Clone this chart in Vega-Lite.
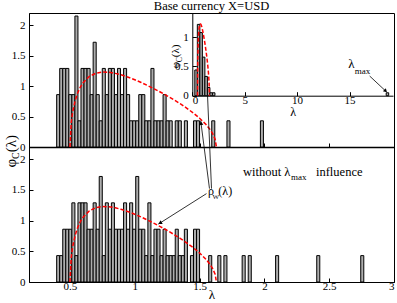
{
  "$schema": "https://vega.github.io/schema/vega-lite/v6.json",
  "width": 365,
  "height": 269,
  "autosize": "none",
  "padding": {"left": 29, "top": 13, "right": 3, "bottom": 21},
  "background": "white",
  "title": {"text": "Base currency X=USD", "font": "Liberation Serif", "fontSize": 12.5, "fontWeight": "normal", "anchor": "middle", "offset": 1, "color": "black"},
  "config": {
    "view": {"stroke": "black", "strokeWidth": 1},
    "axis": {"domainColor": "black", "domainWidth": 1, "tickColor": "black", "tickSize": -4, "labelPadding": 8, "labelFont": "Liberation Serif", "labelFontSize": 11, "labelColor": "black", "grid": false, "titleFont": "Liberation Serif", "titleFontWeight": "normal", "titleColor": "black"},
    "text": {"font": "Liberation Serif", "color": "black"}
  },
  "datasets": {
    "top": [
      {"lam": 0.3974, "lam2": 0.4209, "rho": 0.86},
      {"lam": 0.4209, "lam2": 0.4443, "rho": 1.29},
      {"lam": 0.4443, "lam2": 0.4678, "rho": 1.29},
      {"lam": 0.4678, "lam2": 0.4912, "rho": 1.29},
      {"lam": 0.4912, "lam2": 0.5147, "rho": 0.86},
      {"lam": 0.5147, "lam2": 0.5382, "rho": 0.86},
      {"lam": 0.5382, "lam2": 0.5616, "rho": 2.15},
      {"lam": 0.5616, "lam2": 0.5851, "rho": 0.43},
      {"lam": 0.5851, "lam2": 0.6085, "rho": 1.29},
      {"lam": 0.6085, "lam2": 0.632, "rho": 1.29},
      {"lam": 0.632, "lam2": 0.6555, "rho": 1.29},
      {"lam": 0.6555, "lam2": 0.6789, "rho": 0.86},
      {"lam": 0.6789, "lam2": 0.7024, "rho": 1.72},
      {"lam": 0.7024, "lam2": 0.7258, "rho": 0.86},
      {"lam": 0.7258, "lam2": 0.7493, "rho": 0.43},
      {"lam": 0.7493, "lam2": 0.7728, "rho": 1.29},
      {"lam": 0.7728, "lam2": 0.7962, "rho": 0.86},
      {"lam": 0.7962, "lam2": 0.8197, "rho": 1.29},
      {"lam": 0.8197, "lam2": 0.8431, "rho": 1.29},
      {"lam": 0.8431, "lam2": 0.8666, "rho": 0.86},
      {"lam": 0.8666, "lam2": 0.8901, "rho": 1.29},
      {"lam": 0.8901, "lam2": 0.9135, "rho": 0.86},
      {"lam": 0.9135, "lam2": 0.937, "rho": 1.29},
      {"lam": 0.937, "lam2": 0.9604, "rho": 0.86},
      {"lam": 0.9604, "lam2": 0.9839, "rho": 0.43},
      {"lam": 0.9839, "lam2": 1.0074, "rho": 0.43},
      {"lam": 1.0074, "lam2": 1.0308, "rho": 0.43},
      {"lam": 1.0308, "lam2": 1.0543, "rho": 0.86},
      {"lam": 1.0543, "lam2": 1.0777, "rho": 0.86},
      {"lam": 1.0777, "lam2": 1.1012, "rho": 0.43},
      {"lam": 1.1012, "lam2": 1.1247, "rho": 0.43},
      {"lam": 1.1247, "lam2": 1.1481, "rho": 1.29},
      {"lam": 1.1481, "lam2": 1.1716, "rho": 0.43},
      {"lam": 1.1716, "lam2": 1.195, "rho": 0.43},
      {"lam": 1.195, "lam2": 1.2185, "rho": 0.43},
      {"lam": 1.2185, "lam2": 1.242, "rho": 0.86},
      {"lam": 1.242, "lam2": 1.2654, "rho": 0.43},
      {"lam": 1.2654, "lam2": 1.2889, "rho": 0.43},
      {"lam": 1.3123, "lam2": 1.3358, "rho": 0.43},
      {"lam": 1.3358, "lam2": 1.3593, "rho": 0.43},
      {"lam": 1.3827, "lam2": 1.4062, "rho": 0.43},
      {"lam": 1.4531, "lam2": 1.4766, "rho": 0.43},
      {"lam": 1.4766, "lam2": 1.5, "rho": 0.43},
      {"lam": 1.5939, "lam2": 1.6174, "rho": 0.43},
      {"lam": 1.7112, "lam2": 1.7347, "rho": 0.43},
      {"lam": 1.9692, "lam2": 1.9927, "rho": 0.43}
    ],
    "bottom": [
      {"lam": 0.3974, "lam2": 0.4209, "rho": 0.43},
      {"lam": 0.4209, "lam2": 0.4443, "rho": 0.43},
      {"lam": 0.4443, "lam2": 0.4678, "rho": 0.86},
      {"lam": 0.4678, "lam2": 0.4912, "rho": 0.86},
      {"lam": 0.4912, "lam2": 0.5147, "rho": 0.86},
      {"lam": 0.5147, "lam2": 0.5382, "rho": 1.29},
      {"lam": 0.5382, "lam2": 0.5616, "rho": 0.43},
      {"lam": 0.5616, "lam2": 0.5851, "rho": 1.29},
      {"lam": 0.5851, "lam2": 0.6085, "rho": 1.29},
      {"lam": 0.6085, "lam2": 0.632, "rho": 1.29},
      {"lam": 0.632, "lam2": 0.6555, "rho": 0.86},
      {"lam": 0.6555, "lam2": 0.6789, "rho": 0.86},
      {"lam": 0.6789, "lam2": 0.7024, "rho": 1.29},
      {"lam": 0.7024, "lam2": 0.7258, "rho": 0.86},
      {"lam": 0.7258, "lam2": 0.7493, "rho": 1.72},
      {"lam": 0.7493, "lam2": 0.7728, "rho": 0.43},
      {"lam": 0.7728, "lam2": 0.7962, "rho": 1.29},
      {"lam": 0.7962, "lam2": 0.8197, "rho": 0.86},
      {"lam": 0.8197, "lam2": 0.8431, "rho": 1.29},
      {"lam": 0.8431, "lam2": 0.8666, "rho": 0.86},
      {"lam": 0.8666, "lam2": 0.8901, "rho": 0.86},
      {"lam": 0.8901, "lam2": 0.9135, "rho": 0.86},
      {"lam": 0.9135, "lam2": 0.937, "rho": 1.29},
      {"lam": 0.937, "lam2": 0.9604, "rho": 0.86},
      {"lam": 0.9604, "lam2": 0.9839, "rho": 1.29},
      {"lam": 0.9839, "lam2": 1.0074, "rho": 0.86},
      {"lam": 1.0074, "lam2": 1.0308, "rho": 1.72},
      {"lam": 1.0308, "lam2": 1.0543, "rho": 0.86},
      {"lam": 1.0543, "lam2": 1.0777, "rho": 0.86},
      {"lam": 1.0777, "lam2": 1.1012, "rho": 0.43},
      {"lam": 1.1012, "lam2": 1.1247, "rho": 1.29},
      {"lam": 1.1247, "lam2": 1.1481, "rho": 0.43},
      {"lam": 1.1481, "lam2": 1.1716, "rho": 0.86},
      {"lam": 1.1716, "lam2": 1.195, "rho": 0.86},
      {"lam": 1.195, "lam2": 1.2185, "rho": 0.43},
      {"lam": 1.2185, "lam2": 1.242, "rho": 0.86},
      {"lam": 1.242, "lam2": 1.2654, "rho": 0.43},
      {"lam": 1.2654, "lam2": 1.2889, "rho": 0.43},
      {"lam": 1.2889, "lam2": 1.3123, "rho": 0.43},
      {"lam": 1.3123, "lam2": 1.3358, "rho": 0.86},
      {"lam": 1.3358, "lam2": 1.3593, "rho": 0.43},
      {"lam": 1.3593, "lam2": 1.3827, "rho": 0.43},
      {"lam": 1.3827, "lam2": 1.4062, "rho": 0.86},
      {"lam": 1.4296, "lam2": 1.4531, "rho": 0.43},
      {"lam": 1.4531, "lam2": 1.4766, "rho": 0.86},
      {"lam": 1.4766, "lam2": 1.5, "rho": 0.86},
      {"lam": 1.5704, "lam2": 1.5939, "rho": 0.43},
      {"lam": 1.6408, "lam2": 1.6643, "rho": 0.43},
      {"lam": 1.6877, "lam2": 1.7112, "rho": 0.43},
      {"lam": 1.8285, "lam2": 1.852, "rho": 0.43},
      {"lam": 1.8754, "lam2": 1.8989, "rho": 0.43},
      {"lam": 2.0865, "lam2": 2.11, "rho": 0.43},
      {"lam": 2.404, "lam2": 2.4275, "rho": 0.43},
      {"lam": 2.7434, "lam2": 2.7669, "rho": 0.43}
    ],
    "inset": [
      {"lam": 0.24, "lam2": 0.48, "rho": 0.44},
      {"lam": 0.48, "lam2": 0.72, "rho": 1.22},
      {"lam": 0.72, "lam2": 0.96, "rho": 1.08},
      {"lam": 0.96, "lam2": 1.2, "rho": 0.66},
      {"lam": 1.2, "lam2": 1.44, "rho": 0.33},
      {"lam": 1.44, "lam2": 1.68, "rho": 0.14},
      {"lam": 1.68, "lam2": 1.92, "rho": 0.05},
      {"lam": 1.92, "lam2": 2.16, "rho": 0.05},
      {"lam": 18.5, "lam2": 18.74, "rho": 0.05}
    ],
    "mp": [
      {"lam": 0.5, "rho": 0},
      {"lam": 0.51, "rho": 0.408},
      {"lam": 0.52, "rho": 0.564},
      {"lam": 0.54, "rho": 0.761},
      {"lam": 0.56, "rho": 0.89},
      {"lam": 0.58, "rho": 0.983},
      {"lam": 0.6, "rho": 1.052},
      {"lam": 0.65, "rho": 1.16},
      {"lam": 0.7, "rho": 1.212},
      {"lam": 0.75, "rho": 1.23},
      {"lam": 0.8, "rho": 1.227},
      {"lam": 0.85, "rho": 1.209},
      {"lam": 0.9, "rho": 1.181},
      {"lam": 0.95, "rho": 1.145},
      {"lam": 1.0, "rho": 1.104},
      {"lam": 1.05, "rho": 1.058},
      {"lam": 1.1, "rho": 1.008},
      {"lam": 1.15, "rho": 0.955},
      {"lam": 1.2, "rho": 0.899},
      {"lam": 1.25, "rho": 0.84},
      {"lam": 1.3, "rho": 0.777},
      {"lam": 1.35, "rho": 0.711},
      {"lam": 1.4, "rho": 0.639},
      {"lam": 1.45, "rho": 0.561},
      {"lam": 1.5, "rho": 0.473},
      {"lam": 1.55, "rho": 0.368},
      {"lam": 1.58, "rho": 0.289},
      {"lam": 1.6, "rho": 0.223},
      {"lam": 1.62, "rho": 0.128},
      {"lam": 1.63, "rho": 0}
    ]
  },
  "layer": [
    {
      "encoding": {
        "x": {"field": "lam", "type": "quantitative", "scale": {"domain": [0.184, 3], "nice": false, "zero": false}, "axis": {"orient": "bottom", "offset": -135, "labels": false, "values": [0.5, 1, 1.5, 2, 2.5, 3], "title": null, "domainWidth": 1.5}},
        "y": {"field": "rho", "type": "quantitative", "scale": {"domain": [0, 2.2], "range": [134, 0], "nice": false, "zero": false}, "axis": {"orient": "left", "values": [0, 0.5, 1, 1.5, 2], "format": "~g", "labelFont": "Liberation Serif", "title": null}}
      },
      "layer": [
        {"data": {"name": "top"}, "mark": {"type": "bar", "fill": "#adadad", "stroke": "black", "strokeWidth": 1}, "encoding": {"x2": {"field": "lam2"}, "y2": {"datum": 0}}},
        {"data": {"name": "mp"}, "mark": {"type": "line", "color": "#ff0000", "strokeDash": [4, 2], "strokeWidth": 1.5}}
      ]
    },
    {
      "encoding": {
        "x": {"field": "lam", "type": "quantitative", "scale": {"domain": [0.184, 3], "nice": false, "zero": false}, "axis": {"orient": "bottom", "values": [0.5, 1, 1.5, 2, 2.5, 3], "format": "~g", "labelFont": "Liberation Serif", "labelPadding": 2, "title": "λ", "titleFontSize": 13, "titlePadding": -3}},
        "y": {"field": "rho", "type": "quantitative", "scale": {"domain": [0, 2.2], "range": [269, 134], "nice": false, "zero": false}, "axis": {"orient": "left", "values": [0, 0.5, 1, 1.5, 2], "format": "~g", "labelFont": "Liberation Serif", "title": null}}
      },
      "layer": [
        {"data": {"name": "bottom"}, "mark": {"type": "bar", "fill": "#adadad", "stroke": "black", "strokeWidth": 1}, "encoding": {"x2": {"field": "lam2"}, "y2": {"datum": 0}}},
        {"data": {"name": "mp"}, "mark": {"type": "line", "color": "#ff0000", "strokeDash": [4, 2], "strokeWidth": 1.5}},
        {"data": {"values": [
          {"lam": 1.592, "rho": 1.522, "lam2": 1.5594, "rho2": 3.137},
          {"lam": 1.5764, "rho": 1.522, "lam2": 1.5085, "rho2": 2.631},
          {"lam": 1.5532, "rho": 1.44, "lam2": 1.1813, "rho2": 0.943}
        ]}, "mark": {"type": "rule", "color": "black", "strokeWidth": 0.8}, "encoding": {"x2": {"field": "lam2"}, "y2": {"field": "rho2"}}},
        {"data": {"values": [{"lam": 1.5605, "rho": 3.10}]}, "mark": {"type": "point", "shape": "triangle-up", "filled": true, "color": "black", "opacity": 1, "size": 18, "angle": -2}},
        {"data": {"values": [{"lam": 1.511, "rho": 2.59}]}, "mark": {"type": "point", "shape": "triangle-up", "filled": true, "color": "black", "opacity": 1, "size": 18, "angle": -7}},
        {"data": {"values": [{"lam": 1.195, "rho": 0.96}]}, "mark": {"type": "point", "shape": "triangle-up", "filled": true, "color": "black", "opacity": 1, "size": 18, "angle": 239}},
        {"data": {"values": [{"lam": 1.565, "rho": 1.424, "t": "ρ"}]}, "mark": {"type": "text", "fontSize": 12, "align": "left", "baseline": "alphabetic"}, "encoding": {"text": {"field": "t"}}},
        {"data": {"values": [{"lam": 1.5995, "rho": 1.359, "t": "W"}]}, "mark": {"type": "text", "fontSize": 7, "align": "left", "baseline": "alphabetic"}, "encoding": {"text": {"field": "t"}}},
        {"data": {"values": [{"lam": 1.645, "rho": 1.424, "t": "(λ)"}]}, "mark": {"type": "text", "fontSize": 12, "align": "left", "baseline": "alphabetic"}, "encoding": {"text": {"field": "t"}}},
        {"data": {"values": [{"lam": 2.201, "rho": 1.734, "t": "without λ"}]}, "mark": {"type": "text", "fontSize": 12.5, "align": "right", "baseline": "alphabetic"}, "encoding": {"text": {"field": "t"}}},
        {"data": {"values": [{"lam": 2.205, "rho": 1.657, "t": "max"}]}, "mark": {"type": "text", "fontSize": 9, "align": "left", "baseline": "alphabetic"}, "encoding": {"text": {"field": "t"}}},
        {"data": {"values": [{"lam": 2.398, "rho": 1.734, "t": "influence"}]}, "mark": {"type": "text", "fontSize": 12.5, "align": "left", "baseline": "alphabetic"}, "encoding": {"text": {"field": "t"}}},
        {"data": {"values": [{"lam": 0.083, "rho": 1.865, "t": "φ"}]}, "mark": {"type": "text", "fontSize": 15, "angle": 270, "align": "left", "baseline": "alphabetic"}, "encoding": {"text": {"field": "t"}}},
        {"data": {"values": [{"lam": 0.106, "rho": 2.003, "t": "C"}]}, "mark": {"type": "text", "fontSize": 10, "angle": 270, "align": "left", "baseline": "alphabetic"}, "encoding": {"text": {"field": "t"}}},
        {"data": {"values": [{"lam": 0.083, "rho": 2.115, "t": "(λ)"}]}, "mark": {"type": "text", "fontSize": 15, "angle": 270, "align": "left", "baseline": "alphabetic"}, "encoding": {"text": {"field": "t"}}}
      ]
    },
    {
      "encoding": {
        "x": {"field": "lam", "type": "quantitative", "scale": {"domain": [0, 19.15], "range": [163.3, 364], "nice": false, "zero": false}, "axis": {"orient": "bottom", "offset": -186.3, "values": [0, 5, 10, 15], "format": "~g", "labelFont": "Liberation Serif", "labelPadding": 3, "title": "λ", "titleFontSize": 12, "titlePadding": 1}},
        "y": {"field": "rho", "type": "quantitative", "scale": {"domain": [0, 1.415], "range": [82.7, 0], "nice": false, "zero": false}, "axis": {"orient": "left", "offset": -163.3, "values": [0, 0.5, 1], "format": "~g", "labelFont": "Liberation Serif", "title": null}}
      },
      "layer": [
        {"data": {"name": "inset"}, "mark": {"type": "bar", "fill": "#adadad", "stroke": "black", "strokeWidth": 1}, "encoding": {"x2": {"field": "lam2"}, "y2": {"datum": 0}}},
        {"data": {"name": "mp"}, "mark": {"type": "line", "color": "#ff0000", "strokeDash": [4, 2], "strokeWidth": 1.5}},
        {"data": {"values": [{"lam": 16.92, "rho": 0.337, "lam2": 18.45, "rho2": 0.08}]}, "mark": {"type": "rule", "color": "black", "strokeWidth": 0.8}, "encoding": {"x2": {"field": "lam2"}, "y2": {"field": "rho2"}}},
        {"data": {"values": [{"lam": 18.45, "rho": 0.08}]}, "mark": {"type": "point", "shape": "triangle-up", "filled": true, "color": "black", "opacity": 1, "size": 18, "angle": 135}},
        {"data": {"values": [{"lam": 14.876, "rho": 0.474, "t": "λ"}]}, "mark": {"type": "text", "fontSize": 13, "align": "left", "baseline": "alphabetic"}, "encoding": {"text": {"field": "t"}}},
        {"data": {"values": [{"lam": 15.495, "rho": 0.372, "t": "max"}]}, "mark": {"type": "text", "fontSize": 9, "align": "left", "baseline": "alphabetic"}, "encoding": {"text": {"field": "t"}}},
        {"data": {"values": [{"lam": -1.267, "rho": 0.47, "t": "φ"}]}, "mark": {"type": "text", "fontSize": 11, "angle": 270, "align": "left", "baseline": "alphabetic"}, "encoding": {"text": {"field": "t"}}},
        {"data": {"values": [{"lam": -1.029, "rho": 0.572, "t": "C"}]}, "mark": {"type": "text", "fontSize": 8, "angle": 270, "align": "left", "baseline": "alphabetic"}, "encoding": {"text": {"field": "t"}}},
        {"data": {"values": [{"lam": -1.267, "rho": 0.658, "t": "(λ)"}]}, "mark": {"type": "text", "fontSize": 11, "angle": 270, "align": "left", "baseline": "alphabetic"}, "encoding": {"text": {"field": "t"}}}
      ]
    }
  ],
  "resolve": {"scale": {"x": "independent", "y": "independent"}, "axis": {"x": "independent", "y": "independent"}}
}
